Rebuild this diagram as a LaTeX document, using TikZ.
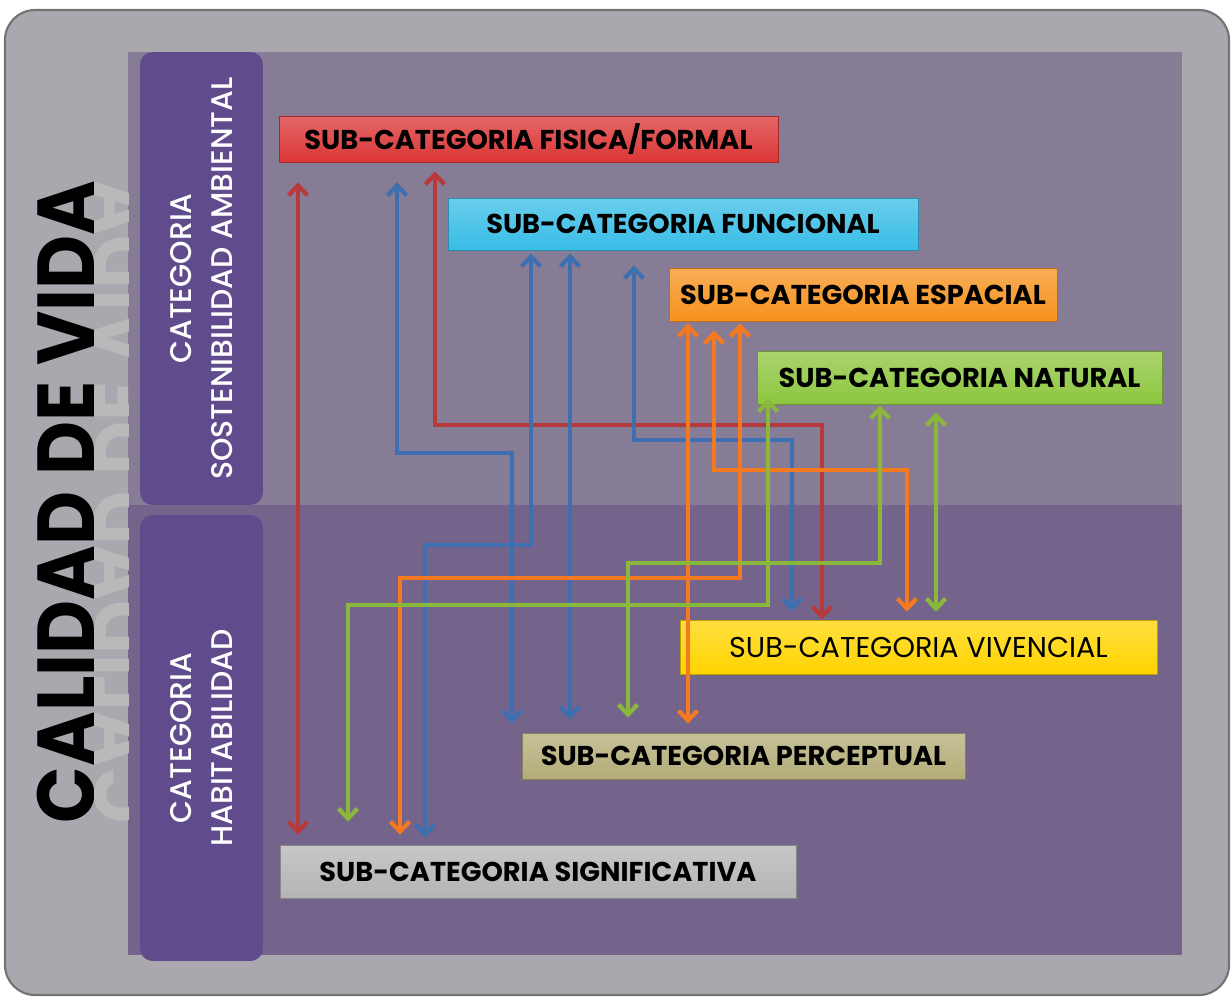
\documentclass[tikz,border=0pt]{standalone}
\usepackage{fontspec}
\usepackage{graphicx}
\newfontfamily\gothic{Poppins}
\newfontfamily\gothicmed{Poppins Medium}
\usetikzlibrary{arrows.meta, positioning, fadings}
\definecolor{bgout}{HTML}{AAA7AF}
\definecolor{panelA}{HTML}{877C95}
\definecolor{panelB}{HTML}{74638B}
\definecolor{catfill}{HTML}{604C8C}
\definecolor{cfis}{HTML}{DB3535}
\definecolor{cfun}{HTML}{38BDE6}
\definecolor{cesp}{HTML}{F6921E}
\definecolor{cnat}{HTML}{8DC63F}
\definecolor{cviv}{HTML}{FFD400}
\definecolor{cper}{HTML}{B3AC78}
\definecolor{csig}{HTML}{B4B5B3}
\definecolor{lred}{HTML}{B7393C}
\definecolor{lblue}{HTML}{3E6FB0}
\definecolor{lorange}{HTML}{F47920}
\definecolor{lgreen}{HTML}{8BB83A}
\tikzset{
    x=0.02cm, y=-0.02cm, % one unit is one pixel of the sketch, y runs downwards
    sub/.style={draw=#1!75!black, top color=#1!75!white, bottom color=#1, inner sep=0pt,
        font=\gothic\bfseries\fontsize{15.5}{17}\selectfont}, % the sub-category bars
    cat/.style={rotate=90, fill=catfill, rounded corners=0.25cm, text=white, align=center,
        minimum height=2.46cm, font=\gothicmed\fontsize{17}{23}\selectfont}, % the two category columns
    link/.style={draw=#1, line width=0.085cm,
        {Straight Barb[length=0.2cm,width=0.38cm]}-{Straight Barb[length=0.2cm,width=0.38cm]}}, % the relations
    title/.style={rotate=90, anchor=base, font=\gothic\bfseries\fontsize{46}{46}\selectfont},
}
\begin{document}
\begin{tikzpicture}
\useasboundingbox (0,0) rectangle (1232,998);
% background
\draw[fill=bgout, draw=black!55, line width=1.2pt, rounded corners=0.6cm] (5,10) rectangle (1229,995);
\fill[panelA] (128,52) rectangle (1182,505);
\fill[panelB] (128,505) rectangle (1182,955);

% title and its reflection
\node[title] (cdv) at (94,502) {\scalebox{0.92}[1]{CALIDAD DE VIDA}};
\begin{scope}
\clip (94,0) rectangle (128,998);
\node[title, text=gray!55, path fading=west] (cdvr) at (94,502) {\scalebox{0.92}[-1]{CALIDAD DE VIDA}};
\end{scope}

% categories
\node[cat, minimum width=9.06cm] (catA) at (201.5,278.5) {CATEGORIA\\SOSTENIBILIDAD AMBIENTAL};
\node[cat, minimum width=8.92cm] (catH) at (201.5,738) {CATEGORIA\\HABITABILIDAD};

% sub-categories
\node[sub=cfis, minimum width=9.98cm, minimum height=0.92cm] (fis) at (528.5,139) {SUB-CATEGORIA FISICA/FORMAL};
\node[sub=cfun, minimum width=9.4cm, minimum height=1.04cm] (fun) at (683,224) {SUB-CATEGORIA FUNCIONAL};
\node[sub=cesp, minimum width=7.76cm, minimum height=1.06cm] (esp) at (863,294.5) {SUB-CATEGORIA ESPACIAL};
\node[sub=cnat, minimum width=8.1cm, minimum height=1.06cm] (nat) at (959.5,377.5) {SUB-CATEGORIA NATURAL};
\node[sub=cviv, minimum width=9.54cm, minimum height=1.08cm, font=\gothic\fontsize{16.3}{18}\selectfont] (viv) at (918.5,647) {SUB-CATEGORIA VIVENCIAL};
\node[sub=cper, minimum width=8.86cm, minimum height=0.92cm] (per) at (743.5,756) {SUB-CATEGORIA PERCEPTUAL};
\node[sub=csig, minimum width=10.32cm, minimum height=1.06cm] (sig) at (538,871.5) {SUB-CATEGORIA SIGNIFICATIVA};

% relations
\draw[link=lred, shorten <=0.4cm, shorten >=0.2cm] (fis.south -| 298,0) -- (sig.north -| 298,0);
\draw[link=lred, shorten <=0.18cm] (fis.south -| 435,0) |- (822,425) -- (viv.north -| 822,0);
\draw[link=lblue, shorten <=0.4cm, shorten >=0.18cm] (fis.south -| 397,0) |- (512,453) -- (per.north -| 512,0);
\draw[link=lblue, shorten <=0.06cm, shorten >=0.14cm] (fun.south -| 531,0) |- (425,545) -- (sig.north -| 425,0);
\draw[link=lblue, shorten <=0.06cm, shorten >=0.26cm] (fun.south -| 570,0) -- (per.north -| 570,0);
\draw[link=lblue, shorten <=0.3cm, shorten >=0.16cm] (fun.south -| 634,0) |- (792,440) -- (viv.north -| 792,0);
\draw[link=lorange, shorten <=0.04cm, shorten >=0.18cm] (esp.south -| 688,0) -- (per.north -| 688,0);
\draw[link=lorange, shorten <=0.18cm, shorten >=0.16cm] (esp.south -| 714,0) |- (907,470) -- (viv.north -| 907,0);
\draw[link=lorange, shorten <=0.04cm, shorten >=0.2cm] (esp.south -| 740,0) |- (400,578) -- (sig.north -| 400,0);
\draw[link=lgreen, shorten <=-0.12cm, shorten >=0.46cm] (nat.south -| 768,0) |- (348,605) -- (sig.north -| 348,0);
\draw[link=lgreen, shorten <=0.02cm, shorten >=0.3cm] (nat.south -| 880,0) |- (628,563) -- (per.north -| 628,0);
\draw[link=lgreen, shorten <=0.16cm, shorten >=0.16cm] (nat.south -| 936,0) -- (viv.north -| 936,0);
\end{tikzpicture}
\end{document}
